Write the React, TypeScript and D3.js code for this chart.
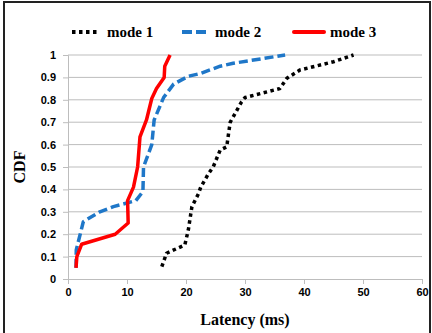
import { useEffect, useRef } from 'react'
import * as d3 from 'd3'

const W = 432
const H = 333
const margin = { top: 55, right: 10, bottom: 54, left: 68 }

const xTicks = [0, 10, 20, 30, 40, 50, 60]
const yTicks = [0, 0.1, 0.2, 0.3, 0.4, 0.5, 0.6, 0.7, 0.8, 0.9, 1]

// latency (ms) / cdf pairs
const mode1Latency = [15.9, 16.7, 19.8, 20.4, 21, 22.1, 22.5, 23.8, 24.6, 25.8, 26.9, 27.3, 27.5, 29.4, 30, 35.9, 37.1, 39.3, 45, 48.4]
const mode1Cdf = [0.055, 0.115, 0.152, 0.22, 0.323, 0.38, 0.41, 0.47, 0.5, 0.576, 0.59, 0.665, 0.7, 0.79, 0.81, 0.85, 0.896, 0.933, 0.97, 1]

const mode2Latency = [1.36, 1.4, 2.6, 5.4, 7.7, 11.5, 12.7, 12.8, 14.2, 14.6, 16.2, 17.9, 20.4, 22.5, 25.8, 28, 36.8]
const mode2Cdf = [0.05, 0.13, 0.256, 0.3, 0.323, 0.35, 0.39, 0.5, 0.6, 0.71, 0.81, 0.87, 0.905, 0.918, 0.95, 0.963, 1]

const mode3Latency = [1.36, 1.5, 2.3, 8, 10.2, 10.1, 11.1, 11.8, 12.2, 13.3, 14.2, 15, 16.3, 16.4, 17.3]
const mode3Cdf = [0.05, 0.1, 0.155, 0.2, 0.25, 0.35, 0.41, 0.5, 0.635, 0.71, 0.806, 0.85, 0.9, 0.95, 1]

const series = [
  { name: 'mode 1', xs: mode1Latency, ys: mode1Cdf, color: '#000000', dash: '3.5 3.5', cap: 'butt' },
  { name: 'mode 2', xs: mode2Latency, ys: mode2Cdf, color: '#1f77c8', dash: '9 4', cap: 'butt' },
  { name: 'mode 3', xs: mode3Latency, ys: mode3Cdf, color: '#ff0000', dash: null, cap: 'butt' },
]

const App = () => {
  const svgRef = useRef<SVGSVGElement>(null)

  useEffect(() => {
    const svg = d3.select(svgRef.current)
    svg.selectAll('*').remove()

    const innerW = W - margin.left - margin.right
    const innerH = H - margin.top - margin.bottom
    const x = d3.scaleLinear().domain([0, 60]).range([margin.left, margin.left + innerW])
    const y = d3.scaleLinear().domain([0, 1]).range([margin.top + innerH, margin.top])

    svg.append('rect')
      .attr('x', 0).attr('y', 0).attr('width', W).attr('height', H)
      .attr('fill', '#fff')

    // frame (bottom edge runs off the picture)
    svg.append('rect')
      .attr('x', 4).attr('y', 2).attr('width', 426).attr('height', 340)
      .attr('fill', 'none').attr('stroke', '#222').attr('stroke-width', 2)

    // grid
    svg.append('g')
      .selectAll('line')
      .data(yTicks.slice(1))
      .join('line')
      .attr('x1', x(0)).attr('x2', x(60))
      .attr('y1', d => y(d)).attr('y2', d => y(d))
      .attr('stroke', '#bdbdbd').attr('stroke-width', 1)

    const tickFont = (g: d3.Selection<SVGGElement, unknown, null, undefined>) => {
      g.select('.domain').attr('stroke', '#bdbdbd')
      g.selectAll('.tick line').attr('stroke', '#bdbdbd')
      g.selectAll('text')
        .attr('fill', '#000')
        .style('font-family', 'Liberation Sans, Arial, sans-serif')
        .style('font-size', '11px').style('font-weight', 'bold')
    }

    svg.append('g')
      .attr('transform', `translate(0,${y(0)})`)
      .call(d3.axisBottom(x).tickValues(xTicks).tickSize(5).tickPadding(4).tickFormat(d3.format('d')))
      .call(tickFont)

    svg.append('g')
      .attr('transform', `translate(${x(0)},0)`)
      .call(d3.axisLeft(y).tickValues(yTicks).tickSize(5).tickPadding(7)
        .tickFormat(d => d3.format('~g')(d as number)))
      .call(tickFont)

    const line = d3.line<[number, number]>().x(d => x(d[0])).y(d => y(d[1]))

    series.forEach(s => {
      const pts: [number, number][] = s.xs.map((v, i) => [v, s.ys[i]])
      const path = svg.append('path')
        .attr('d', line(pts))
        .attr('fill', 'none')
        .attr('stroke', s.color)
        .attr('stroke-width', 3.5)
        .attr('stroke-linejoin', 'round')
        .attr('stroke-linecap', s.cap)
      if (s.dash) path.attr('stroke-dasharray', s.dash)
    })

    // legend
    const legendX = [72, 182, 294]
    const legendLen = [26, 24, 30]
    series.forEach((s, i) => {
      const g = svg.append('g').attr('transform', `translate(${legendX[i]},32)`)
      const l = g.append('line')
        .attr('x1', 0).attr('x2', legendLen[i]).attr('y1', 0).attr('y2', 0)
        .attr('stroke', s.color).attr('stroke-width', 4)
        .attr('stroke-linecap', i === 2 ? 'round' : 'butt')
      if (s.dash) l.attr('stroke-dasharray', i === 0 ? '3.5 3.5' : '10 4')
      g.append('text')
        .attr('x', legendLen[i] + (i === 2 ? 6 : 9)).attr('y', 5)
        .style('font-family', 'Liberation Serif, Times New Roman, serif')
        .style('font-size', '15px').style('font-weight', 'bold')
        .text(s.name)
    })

    svg.append('text')
      .attr('x', x(30)).attr('y', 325)
      .attr('text-anchor', 'middle')
      .style('font-family', 'Liberation Serif, Times New Roman, serif')
      .style('font-size', '16px').style('font-weight', 'bold')
      .text('Latency (ms)')

    svg.append('text')
      .attr('transform', `translate(25,${y(0.5)}) rotate(-90)`)
      .attr('text-anchor', 'middle')
      .style('font-family', 'Liberation Serif, Times New Roman, serif')
      .style('font-size', '16px').style('font-weight', 'bold')
      .text('CDF')
  }, [])

  return (
    <svg ref={svgRef} width={W} height={H}
      style={{ position: 'absolute', left: 0, top: 0, display: 'block' }} />
  )
}

export default App
